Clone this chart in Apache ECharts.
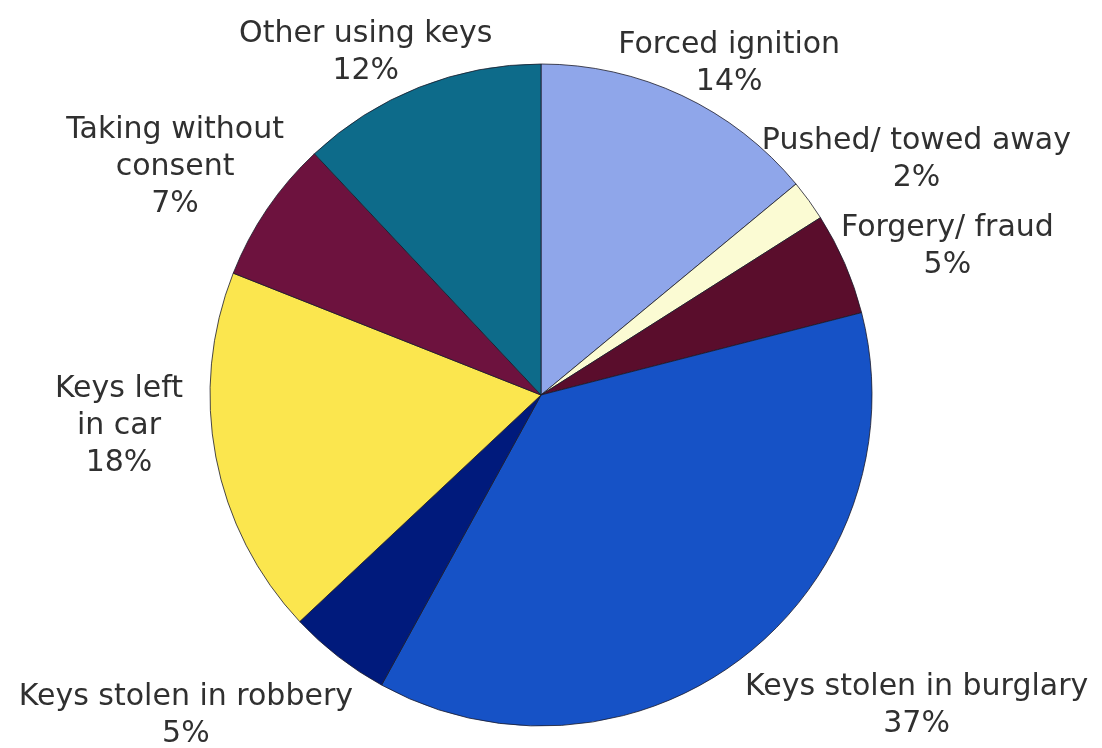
<!DOCTYPE html>
<html><head><meta charset="utf-8">
<script src="https://cdn.jsdelivr.net/npm/echarts@6/dist/echarts.min.js"></script>
<style>html,body{margin:0;padding:0;background:#fff}#c{width:1102px;height:748px}</style>
</head><body><div id="c"></div>
<script>
const categories = ["Forced ignition", "Pushed/ towed away", "Forgery/ fraud", "Keys stolen in burglary", "Keys stolen in robbery", "Keys left\nin car", "Taking without\nconsent", "Other using keys"];
const values = [14, 2, 5, 37, 5, 18, 7, 12];
const colors = ["#8fa6ea", "#fbfbd3", "#5a0d2c", "#1652c6", "#001a7c", "#fbe64e", "#6d123e", "#0d6b8a"];

// label nudges (style only): offsets from the library's default outside label placement
const labelNudge = [[-83, -23], [-70, -35], [-28, -13], [-20, 41], [36, 51], [-8, -33], [40, -36], [92, -25]];

const chart = echarts.init(document.getElementById('c'));
chart.setOption({
  animation: false,
  series: [{
    type: 'pie',
    center: [541, 395],
    radius: 331,
    startAngle: 90,
    clockwise: true,
    avoidLabelOverlap: false,
    data: categories.map((n, i) => ({ name: n, value: values[i], itemStyle: { color: colors[i] } })),
    itemStyle: { borderColor: '#1a1a2a', borderWidth: 0.8 },
    label: {
      show: true,
      position: 'outside',
      formatter: p => p.name + '\n' + p.value + '%',
      fontFamily: 'DejaVu Sans, sans-serif',
      fontSize: 30,
      lineHeight: 37,
      color: '#303030',
      align: 'center'
    },
    labelLine: { show: false, length: 10, length2: 10 },
    labelLayout: p => {
      const r = p.labelRect, n = labelNudge[p.dataIndex];
      return { x: r.x + r.width / 2 + n[0], y: r.y + r.height / 2 + n[1], align: 'center', verticalAlign: 'middle' };
    }
  }]
});
</script></body></html>
